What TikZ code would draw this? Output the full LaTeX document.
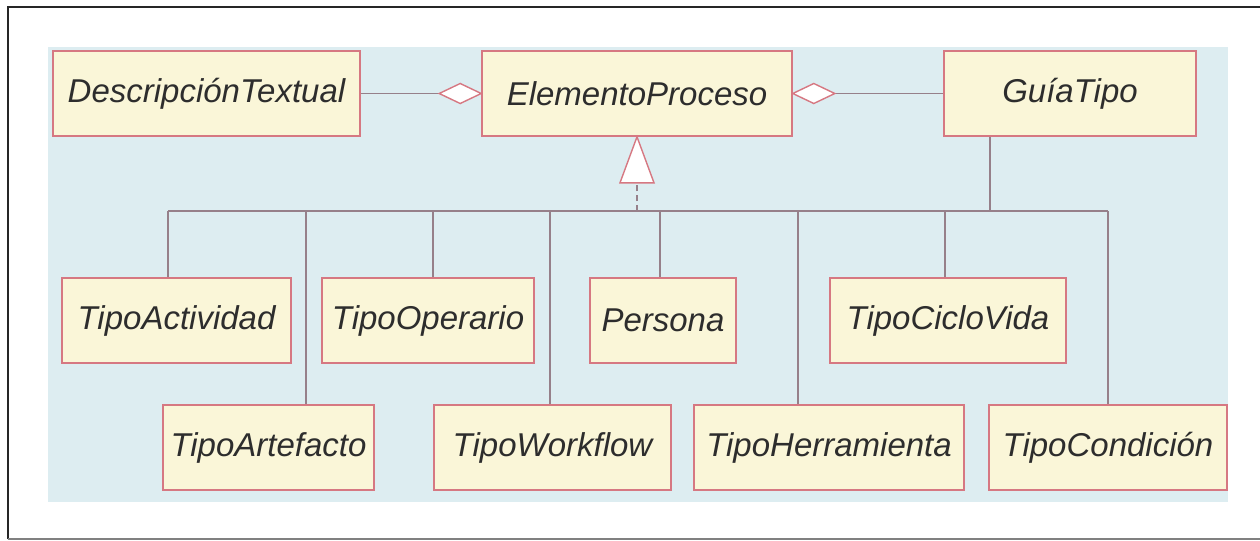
\documentclass[tikz,border=0pt]{standalone}
\usepackage{fontspec}
\setmainfont{Liberation Sans}
\usetikzlibrary{calc}
\definecolor{panel}{RGB}{221,237,241}
\definecolor{boxfill}{RGB}{250,246,216}
\definecolor{boxline}{RGB}{214,120,130}
\definecolor{conn}{RGB}{150,128,138}
\definecolor{txt}{RGB}{45,45,45}
\begin{document}
\begin{tikzpicture}[x=0.5pt,y=-0.5pt,
  cls/.style={draw=boxline, fill=boxfill, line width=0.8pt, inner sep=0pt,
    minimum height=42.5pt, text=txt, font=\fontsize{16.5}{18}\selectfont\itshape},
  link/.style={draw=conn, line width=0.6pt},
  agg/.style={draw=boxline, fill=white, line width=0.7pt},
  gen/.style={draw=boxline, fill=white, line width=0.7pt}]
\useasboundingbox (0,0) rectangle (1260,541);
\fill[white] (0,0) rectangle (1260,541);
% outer frame
\draw[line width=1.4pt, black!85] (8,539) -- (8,7) -- (1260,7);
\draw[line width=0.9pt, black!50] (8,539) -- (1260,539);
% panel
\fill[panel] (48,47) rectangle (1228,502);
% top row
\node[cls, minimum width=153.5pt] (desc) at (206.5,93.5) {DescripciónTextual};
\node[cls, minimum width=155pt] (elem) at (637,93.5) {ElementoProceso};
\node[cls, minimum width=126pt] (guia) at (1070,93.5) {GuíaTipo};
% second row
\node[cls, minimum width=114.5pt] (act) at (176.5,320.5) {TipoActividad};
\node[cls, minimum width=106pt] (oper) at (428,320.5) {TipoOperario};
\node[cls, minimum width=73pt] (pers) at (663,320.5) {Persona};
\node[cls, minimum width=118pt] (ciclo) at (948,320.5) {TipoCicloVida};
% third row
\node[cls, minimum width=105.5pt] (arte) at (268.5,447.5) {TipoArtefacto};
\node[cls, minimum width=118.5pt] (work) at (552.5,447.5) {TipoWorkflow};
\node[cls, minimum width=135pt] (herr) at (829,447.5) {TipoHerramienta};
\node[cls, minimum width=119pt] (cond) at (1108,447.5) {TipoCondición};
% aggregation: DescripciónTextual -> ElementoProceso
\coordinate (dl) at ($(elem.west)+(-42,0)$);
\draw[link] (desc.east) -- (dl);
\draw[agg] (elem.west) -- ++(-21,-10) -- ++(-21,10) -- ++(21,10) -- cycle;
% aggregation: GuíaTipo -> ElementoProceso
\coordinate (dr) at ($(elem.east)+(42,0)$);
\draw[link] (guia.west) -- (dr);
\draw[agg] (elem.east) -- ++(21,-10) -- ++(21,10) -- ++(-21,10) -- cycle;
% bus
\coordinate (b1) at (168,211);
\coordinate (b2) at (306,211);
\coordinate (b3) at (433,211);
\coordinate (b4) at (550,211);
\coordinate (bg) at (637,211);
\coordinate (b5) at (660,211);
\coordinate (b6) at (798,211);
\coordinate (b7) at (945,211);
\coordinate (bgt) at (990,211);
\coordinate (b8) at (1108,211);
\draw[link] (b1) -- (b8);
\draw[link] (b1) -- (b1 |- act.north);
\draw[link] (b2) -- (b2 |- arte.north);
\draw[link] (b3) -- (b3 |- oper.north);
\draw[link] (b4) -- (b4 |- work.north);
\draw[link] (b5) -- (b5 |- pers.north);
\draw[link] (b6) -- (b6 |- herr.north);
\draw[link] (b7) -- (b7 |- ciclo.north);
\draw[link] (b8) -- (b8 |- cond.north);
\draw[link] (bgt |- guia.south) -- (bgt);
% generalization
\coordinate (gb) at (637,181);
\draw[link, dash pattern=on 3pt off 2pt] (bg) -- (gb);
\draw[gen] (elem.south) -- ++(-17,46) -- ++(34,0) -- cycle;
\end{tikzpicture}
\end{document}
